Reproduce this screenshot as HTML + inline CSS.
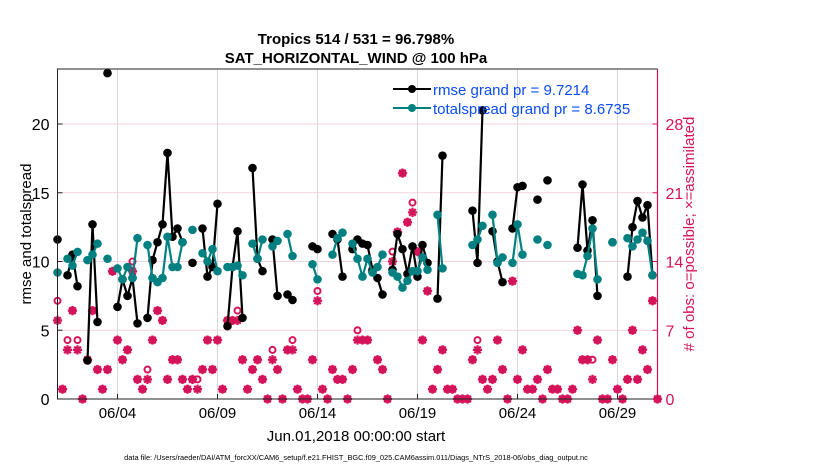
<!DOCTYPE html>
<html><head><meta charset="utf-8"><style>
body{margin:0;background:#fff;}
svg text{font-family:"Liberation Sans",Arial,sans-serif;}
</style></head><body>
<svg id="chart" width="830" height="470" viewBox="0 0 830 470" xmlns="http://www.w3.org/2000/svg">
<rect width="830" height="470" fill="#fff"/>
<text x="356" y="44" text-anchor="middle" font-size="15" font-weight="bold">Tropics 514 / 531 = 96.798%</text>
<text x="356" y="63" text-anchor="middle" font-size="15" font-weight="bold">SAT_HORIZONTAL_WIND @ 100 hPa</text>
<g id="grid"></g>
<g id="marks"></g>
<g id="axes"></g>
<text transform="translate(31,234) rotate(-90)" text-anchor="middle" font-size="15">rmse and totalspread</text>
<text transform="translate(694,234) rotate(-90)" text-anchor="middle" font-size="15" fill="#d4145a"># of obs: o=possible; ×=assimilated</text>
<text x="356" y="441" text-anchor="middle" font-size="15">Jun.01,2018 00:00:00 start</text>
<text x="356" y="460" text-anchor="middle" font-size="7.4">data file: /Users/raeder/DAI/ATM_forcXX/CAM6_setup/f.e21.FHIST_BGC.f09_025.CAM6assim.011/Diags_NTrS_2018-06/obs_diag_output.nc</text>
<g id="legend">
<line x1="393" y1="89" x2="431" y2="89" stroke="#000" stroke-width="2"/>
<circle cx="412" cy="89" r="4" fill="#000"/>
<text x="433" y="95" font-size="15" fill="#0a4cf5">rmse grand pr = 9.7214</text>
<line x1="393" y1="108" x2="431" y2="108" stroke="#008080" stroke-width="2"/>
<circle cx="412" cy="108" r="4" fill="#008080"/>
<text x="433" y="114" font-size="15" fill="#0a4cf5">totalspread grand pr = 8.6735</text>
</g>
</svg>
<script>
const N = 121;
const rmseIdx = [0,2,3,4,6,7,8,10,12,13,14,15,16,18,19,20,21,22,23,24,25,27,29,30,31,32,34,35,36,37,39,40,41,43,44,46,47,51,52,55,56,57,59,60,61,62,63,64,65,67,68,69,70,71,72,73,74,76,77,83,84,85,87,88,89,91,92,93,96,98,104,105,106,107,108,111,114,115,116,117,118,119];
const rmseVals = [11.6,9.0,10.5,8.2,2.8,12.7,5.6,23.7,6.7,8.7,7.5,8.8,5.5,5.9,10.1,11.4,12.7,17.9,11.8,12.4,11.4,9.9,12.4,8.9,9.6,14.2,5.3,9.6,12.2,5.9,16.8,10.2,9.3,11.6,7.5,7.6,7.2,11.1,10.9,12.0,11.6,8.9,10.9,11.6,11.3,11.2,9.4,8.8,7.6,9.4,12.0,10.9,9.1,11.1,8.9,11.2,9.9,7.3,17.7,13.7,9.9,21.0,12.2,10.0,8.5,12.4,15.4,15.5,14.5,15.9,11.0,15.6,10.8,13.0,7.5,11.4,8.9,12.5,14.4,13.2,14.1,9.0];
const spreadIdx = rmseIdx;
const spreadVals = [9.2,10.2,9.7,10.7,10.1,10.5,11.3,10.2,9.5,8.7,9.6,8.8,11.7,11.2,8.8,8.5,8.8,11.8,9.6,9.6,11.4,12.3,10.6,10.0,10.9,9.3,9.6,9.6,9.7,9.0,11.3,10.2,11.6,11.1,11.5,12.0,10.4,9.8,8.7,10.5,11.7,12.1,11.3,10.2,8.9,10.2,9.2,9.6,10.5,9.2,8.9,8.1,8.6,9.3,9.3,10.3,9.4,13.4,9.5,11.2,11.6,12.6,13.4,9.9,10.3,9.9,12.7,10.5,11.6,11.2,9.1,9.0,10.4,12.4,8.7,11.4,11.7,11.1,11.6,12.1,11.5,9.0];
const possible = [10,1,6,9,6,0,4,9,3,1,3,13,6,4,5,14,2,1,3,6,9,8,2,4,4,2,1,2,2,3,6,3,6,1,8,8,9,4,1,3,4,2,0,5,3,0,5,6,1,0,0,4,11,1,0,3,2,2,0,3,7,6,6,13,4,3,0,15,17,23,18,20,15,6,11,1,3,5,1,1,0,0,0,4,6,2,1,2,6,3,0,12,2,5,1,1,2,0,3,1,1,0,0,1,7,4,4,4,6,0,0,4,1,0,2,7,2,5,3,10,0];
const assimilated = [8,1,5,9,5,0,4,9,3,1,3,13,6,4,5,13,2,1,2,6,9,8,2,4,4,2,1,2,1,3,6,3,6,1,8,8,8,4,1,3,4,2,0,4,3,0,5,5,1,0,0,4,10,1,0,3,2,2,0,3,6,6,6,13,4,3,0,14,17,23,18,19,15,6,11,1,3,5,1,1,0,0,0,4,5,2,1,2,6,3,0,12,2,5,1,1,2,0,3,1,1,0,0,1,7,4,4,2,6,0,0,4,1,0,2,7,2,5,3,10,0];
const dayTicks = [3,8,13,18,23,28];
const dayLabels = ["06/04","06/09","06/14","06/19","06/24","06/29"];
const leftTicks = [0,5,10,15,20];
const rightTicks = [0,7,14,21,28];

const X0=57.5, X1=657.5, Y0=399, YT=69, VMAX=24, CMAX=33.6;
const ns='http://www.w3.org/2000/svg';
function xs(i){return X0+(X1-X0)*i/(N-1);}
function xd(d){return X0+d*20;}
function yl(v){return Y0-(Y0-YT)*v/VMAX;}
function yr(c){return Y0-(Y0-YT)*c/CMAX;}
function mk(tag,attrs,parent){const e=document.createElementNS(ns,tag);for(const k in attrs)e.setAttribute(k,attrs[k]);parent.appendChild(e);return e;}
const grid=document.getElementById('grid'), marks=document.getElementById('marks'), axes=document.getElementById('axes');
const PINK='#d4145a', TEAL='#008080';

rightTicks.forEach(t=>{ if(t>0){const l=mk('line',{x1:X0,x2:X1,y1:yr(t),y2:yr(t),stroke:'#f4d2de','stroke-width':1},grid);

}});
dayTicks.forEach(d=>{const l=mk('line',{x1:xd(d),x2:xd(d),y1:YT,y2:Y0,stroke:'#d8d8d8','stroke-width':1},grid);

});

function series(idx,vals,color,name){
  const g=mk('g',{},marks);
  
  
  let seg=[];
  const flush=()=>{if(seg.length>1){const p=mk('polyline',{points:seg.join(' '),fill:'none',stroke:color,'stroke-width':2.2,'stroke-linejoin':'round'},g);
    
    }seg=[];};
  for(let k=0;k<idx.length;k++){
    if(k>0 && idx[k]!==idx[k-1]+1) flush();
    seg.push(xs(idx[k])+','+yl(vals[k]));
  }
  flush();
  for(let k=0;k<idx.length;k++){const c=mk('circle',{cx:xs(idx[k]),cy:yl(vals[k]),r:4.3,fill:color},g);
    
    }
}
const cg=mk('g',{},marks);


for(let i=0;i<N;i++){
  const x=xs(i);
  const yp=yr(possible[i]);
  const c=mk('circle',{cx:x,cy:yp,r:3,fill:'none',stroke:PINK,'stroke-width':2},cg);
  
  
  const ya=yr(assimilated[i]), s=4.6, d=3.3;
  const a=mk('path',{d:`M${x-s},${ya}H${x+s}M${x},${ya-s}V${ya+s}M${x-d},${ya-d}L${x+d},${ya+d}M${x-d},${ya+d}L${x+d},${ya-d}`,stroke:PINK,'stroke-width':2.3,fill:'none'},cg);
  
  
}
series(rmseIdx,rmseVals,'#000','rmse-series');
series(spreadIdx,spreadVals,TEAL,'totalspread-series');

mk('path',{d:`M${X1},${YT}H${X0}V${Y0}H${X1}`,fill:'none',stroke:'#222','stroke-width':1},axes);
mk('line',{x1:X1,x2:X1,y1:YT,y2:Y0,stroke:PINK,'stroke-width':1.2},axes);
leftTicks.forEach(t=>{const y=yl(t);
  mk('line',{x1:X0,x2:X0+5,y1:y,y2:y,stroke:'#222'},axes);
  const tx=mk('text',{x:X0-8,y:y+6,'text-anchor':'end','font-size':16},axes);tx.textContent=t;
  
  });
rightTicks.forEach(t=>{const y=yr(t);
  mk('line',{x1:X1-5,x2:X1,y1:y,y2:y,stroke:PINK},axes);
  const tx=mk('text',{x:X1+8,y:y+6,'font-size':16,fill:PINK},axes);tx.textContent=t;
  
  });
dayTicks.forEach((d,k)=>{const x=xd(d);
  mk('line',{x1:x,x2:x,y1:Y0,y2:Y0-5,stroke:'#222'},axes);
  const tx=mk('text',{x:x,y:Y0+19,'text-anchor':'middle','font-size':15},axes);tx.textContent=dayLabels[k];
  
  });
</script>
</body></html>
